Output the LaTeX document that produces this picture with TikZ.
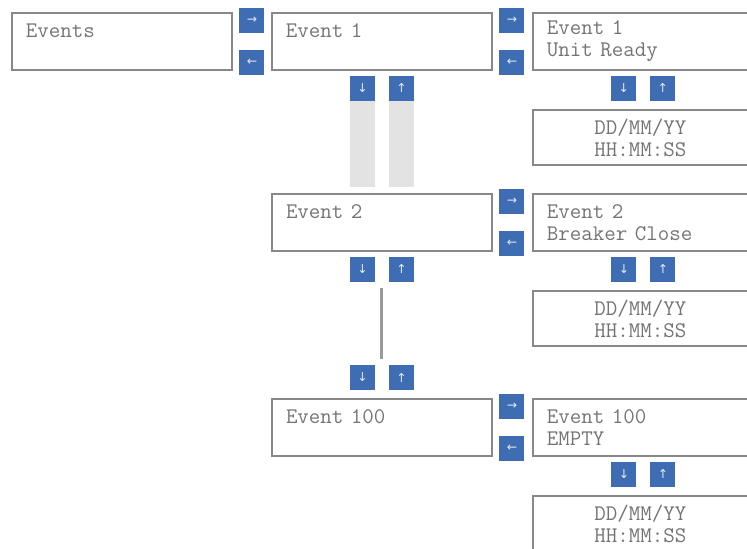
\documentclass[tikz,border=0pt]{standalone}
\usepackage{fontspec}
\newfontfamily\keyfont{DejaVu Sans}
\usetikzlibrary{positioning, calc}
\definecolor{keyblue}{HTML}{3F6DB3}
\definecolor{framegray}{HTML}{888888}
\definecolor{textgray}{HTML}{747474}
\tikzset{
  screen/.style={draw=framegray, line width=0.04cm, rectangle, outer sep=0pt,
    minimum height=1.14cm, text width=3.84cm, inner xsep=0.28cm, align=left,
    text=textgray, font=\ttfamily\fontsize{12.7}{12.6}\selectfont},
  wide/.style={text width=3.74cm},
  stamp/.style={screen, wide, align=center, minimum height=1.1cm},
  key/.style={fill=keyblue, minimum size=0.5cm, inner sep=0pt, outer sep=0pt,
    text=white!85!keyblue, font=\keyfont\fontsize{7}{7}\selectfont},
  track/.style={fill=gray!22},
  link/.style={draw=gray!80, line width=0.06cm},
}

\begin{document}
\begin{tikzpicture}[x=0.02cm, y=-0.02cm]
  \clip (0,0) rectangle (747,548);

  % screens, left column
  \node[screen, anchor=north west] (events) at (12,13) {Events\\~};
  \node[screen, right=0.8cm of events] (ev1) {Event 1\\~};
  \node[screen, anchor=north west] (ev2) at (272,194) {Event 2\\~};
  \node[screen, anchor=north west] (ev100) at (272,399) {Event 100\\~};

  % screens, right column
  \node[screen, wide, right=0.82cm of ev1] (ev1txt) {Event 1\\Unit Ready};
  \node[stamp, below=0.8cm of ev1txt] (ev1time) {DD/MM/YY\\HH:MM:SS};
  \node[screen, wide, right=0.82cm of ev2] (ev2txt) {Event 2\\Breaker Close};
  \node[stamp, below=0.8cm of ev2txt] (ev2time) {DD/MM/YY\\HH:MM:SS};
  \node[screen, wide, right=0.82cm of ev100] (ev100txt) {Event 100\\EMPTY};
  \node[stamp, below=0.8cm of ev100txt] (ev100time) {DD/MM/YY\\HH:MM:SS};

  % right / left keys
  \foreach \s in {events, ev1, ev2, ev100} {
    \node[key] (fwd-\s) at ([xshift=0.4cm, yshift=0.42cm]\s.east) {→};
    \node[key] (back-\s) at ([xshift=0.4cm, yshift=-0.42cm]\s.east) {←};
  }

  % down / up keys
  \foreach \s in {ev1, ev2} {
    \node[key, below=0.12cm of \s.south, xshift=-0.39cm] (dn-\s) {↓};
    \node[key, below=0.12cm of \s.south, xshift=0.39cm] (up-\s) {↑};
  }
  \foreach \s in {ev1txt, ev2txt, ev100txt} {
    \node[key, below=0.12cm of \s.south, xshift=-0.33cm] (dn-\s) {↓};
    \node[key, below=0.12cm of \s.south, xshift=0.45cm] (up-\s) {↑};
  }
  \node[key, above=0.18cm of ev100.north, xshift=-0.39cm] (dn-ev100) {↓};
  \node[key, above=0.18cm of ev100.north, xshift=0.39cm] (up-ev100) {↑};

  % scroll tracks
  \coordinate (trackend) at ([yshift=0.14cm]ev2.north);
  \fill[track] (dn-ev1.south west) rectangle (dn-ev1.south east |- trackend);
  \fill[track] (up-ev1.south west) rectangle (up-ev1.south east |- trackend);

  % skipped events
  \coordinate (gaptop) at ($(dn-ev2.south)!0.5!(up-ev2.south)+(0,6)$);
  \coordinate (gapbot) at ($(dn-ev100.north)!0.5!(up-ev100.north)+(0,-6)$);
  \draw[link] (gaptop) -- (gapbot);
\end{tikzpicture}
\end{document}
